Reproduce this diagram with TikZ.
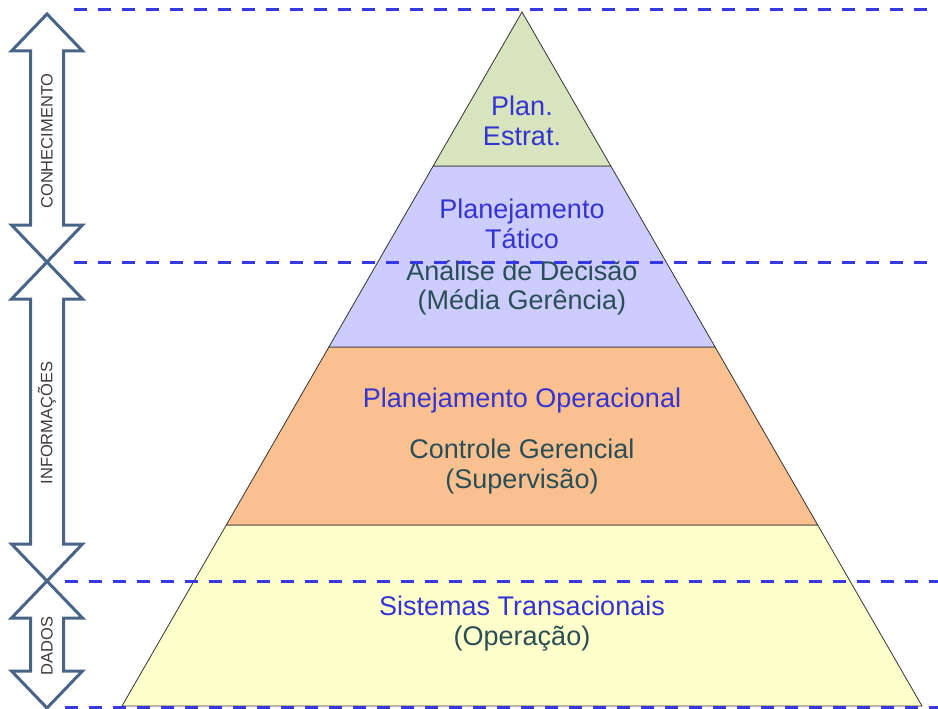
\documentclass[tikz,border=0pt]{standalone}
\usepackage{fontspec}
\setmainfont{Liberation Sans}
\usetikzlibrary{calc}

\definecolor{tierA}{RGB}{215,228,189}
\definecolor{tierB}{RGB}{204,204,255}
\definecolor{tierC}{RGB}{250,192,144}
\definecolor{tierD}{RGB}{255,255,204}
\definecolor{headblue}{RGB}{52,52,210}
\definecolor{subteal}{RGB}{42,78,86}
\definecolor{guideblue}{RGB}{55,55,228}
\definecolor{arrowline}{RGB}{72,100,134}
\definecolor{arrowtext}{RGB}{60,60,60}

% double-headed block arrow: centre x, upper tip y, lower tip y
\newcommand{\dblarrow}[3]{%
  \draw[blockarrow]
    (#1,#2) -- ++(35.5,37) -- ++(-19,0) -- (#1+16.5,#3-37) -- ++(19,0)
    -- (#1,#3) -- ++(-35.5,-37) -- ++(19,0) -- (#1-16.5,#2+37) -- ++(-19,0)
    -- cycle;}

\begin{document}
\begin{tikzpicture}[x=1pt,y=-1pt,
  tier/.style={draw=black!80, line width=0.8pt},
  head/.style={text=headblue, font=\fontsize{27}{30}\selectfont, anchor=base, inner sep=0pt},
  sub/.style={text=subteal, font=\fontsize{27}{30}\selectfont, anchor=base, inner sep=0pt},
  guide/.style={draw=guideblue, line width=3pt, dash pattern=on 13pt off 11pt},
  blockarrow/.style={draw=arrowline, line width=3pt, fill=white, line join=miter},
  arrowlabel/.style={text=arrowtext, font=\fontsize{16.5}{18}\selectfont, rotate=90, inner sep=0pt}]

\useasboundingbox (0,0) rectangle (938,709);

% pyramid tiers, apex (522,12), base from 122 to 922 at y = 706
\filldraw[tier, fill=tierD] (122,706) -- (922,706) -- (817.7,525) -- (226.3,525) -- cycle;
\filldraw[tier, fill=tierC] (226.3,525) -- (817.7,525) -- (715.1,347) -- (328.9,347) -- cycle;
\filldraw[tier, fill=tierB] (328.9,347) -- (715.1,347) -- (610.8,166) -- (433.2,166) -- cycle;
\filldraw[tier, fill=tierA] (433.2,166) -- (610.8,166) -- (522,12) -- cycle;

% tier labels
\node[head] (strat1) at (522,115) {Plan.};
\node[head] (strat2) at (522,146) {Estrat.};
\node[head] (tat1) at (522,218) {Planejamento};
\node[head] (tat2) at (522,248) {Tático};
\node[sub] (tat3) at (522,280) {Análise de Decisão};
\node[sub] (tat4) at (522,309) {(Média Gerência)};
\node[head] (op1) at (522,407) {Planejamento Operacional};
\node[sub] (op2) at (522,458) {Controle Gerencial};
\node[sub] (op3) at (522,488) {(Supervisão)};
\node[head] (sys1) at (522,615) {Sistemas Transacionais};
\node[sub] (sys2) at (522,645) {(Operação)};

% level boundaries
\coordinate (g1a) at (74,10);  \coordinate (g1b) at (938,10);
\coordinate (g2a) at (74,262); \coordinate (g2b) at (938,262);
\coordinate (g3a) at (65,581); \coordinate (g3b) at (938,581);
\coordinate (g4a) at (65,707); \coordinate (g4b) at (938,707);
\draw[guide] (g1a) -- (g1b);
\draw[guide] (g2a) -- (g2b);
\draw[guide] (g3a) -- (g3b);
\draw[guide] (g4a) -- (g4b);

% level arrows on the left
\dblarrow{47}{14}{262}
\dblarrow{47}{262}{581}
\dblarrow{47}{581}{708}
\node[arrowlabel] (know) at (47,141) {CONHECIMENTO};
\node[arrowlabel] (info) at (47,423) {INFORMAÇÕES};
\node[arrowlabel] (data) at (47,646) {DADOS};

\end{tikzpicture}
\end{document}
